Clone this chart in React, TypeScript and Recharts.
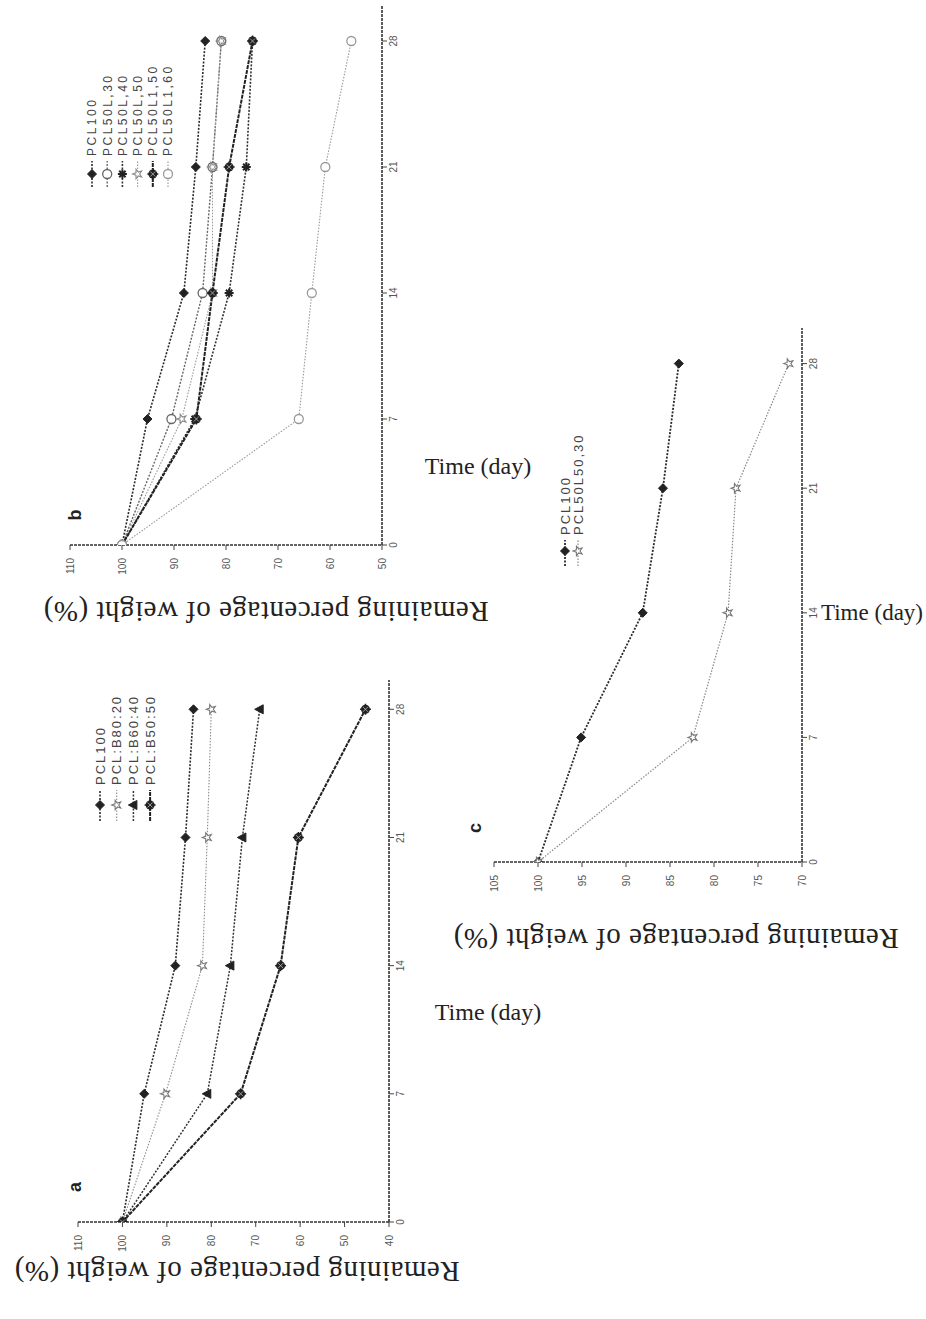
import React from 'react';
import { LineChart, Line, XAxis, YAxis } from 'recharts';

// ---------- data ----------
const days = [0, 7, 14, 21, 28];
const dayTicks = [0, 7, 14, 21, 28];

// panel a
const aLabels = ['PCL100', 'PCL:B80:20', 'PCL:B60:40', 'PCL:B50:50'];
const aPCL100 = [100, 95.1, 88.1, 85.8, 84.0];
const aBlend1 = [100, 90.3, 82.0, 80.9, 80.0];
const aBlend2 = [100, 80.9, 75.7, 73.0, 69.1];
const aBlend3 = [100, 73.4, 64.4, 60.4, 45.3];
const aTicks = [40, 50, 60, 70, 80, 90, 100, 110];

// panel b
const bLabels = ['PCL100', 'PCL50L,30', 'PCL50L,40', 'PCL50L,50', 'PCL50L1,50', 'PCL50L1,60'];
const bPCL100 = [100, 95.1, 88.1, 85.8, 84.0];
const bBlend1 = [100, 90.5, 84.5, 82.6, 80.9];
const bBlend2 = [100, 86.0, 79.4, 76.1, 74.9];
const bBlend3 = [100, 88.5, 82.6, 82.6, 80.9];
const bBlend4 = [100, 85.7, 82.6, 79.4, 74.9];
const bBlend5 = [100, 66.0, 63.5, 60.9, 55.9];
const bTicks = [50, 60, 70, 80, 90, 100, 110];

// panel c
const cLabels = ['PCL100', 'PCL50L50,30'];
const cPCL100 = [100, 95.1, 88.1, 85.8, 84.0];
const cBlend1 = [100, 82.4, 78.4, 77.5, 71.5];
const cTicks = [70, 75, 80, 85, 90, 95, 100, 105];

const xTitle = 'Time (day)';
const yTitle = 'Remaining percentage of weight (%)';

// ---------- styles (kept apart from data) ----------
type Style = { stroke: string; width: number; dash: string; kind: string; mark: string };
const darkDot: Style = { stroke: '#2b2b2b', width: 1.6, dash: '2 1.5', kind: 'diamond', mark: '#222' };
const aStyles: Style[] = [
  darkDot,
  { stroke: '#8c8c8c', width: 1.1, dash: '1.5 1.5', kind: 'starOpen', mark: '#777' },
  { stroke: '#333', width: 1.5, dash: '2 1.5', kind: 'triangle', mark: '#222' },
  { stroke: '#222', width: 2, dash: '4 1', kind: 'burst', mark: '#222' },
];
const bStyles: Style[] = [
  darkDot,
  { stroke: '#666', width: 1.4, dash: '2 1.5', kind: 'circleOpen', mark: '#666' },
  { stroke: '#333', width: 1.6, dash: '2 1.5', kind: 'asterisk', mark: '#222' },
  { stroke: '#999', width: 1.1, dash: '1.5 1.5', kind: 'starOpen', mark: '#888' },
  { stroke: '#222', width: 2, dash: '4 1', kind: 'burst', mark: '#222' },
  { stroke: '#999', width: 1.1, dash: '1.5 1.5', kind: 'circleOpen', mark: '#999' },
];
const cStyles: Style[] = [
  { ...darkDot, width: 1.8 },
  { stroke: '#888', width: 1.2, dash: '1.5 1.5', kind: 'starOpen', mark: '#777' },
];

function Marker({ cx, cy, kind, color }: { cx: number; cy: number; kind: string; color: string }) {
  const r = 4.5;
  if (kind === 'diamond') {
    return <polygon points={`${cx},${cy - r} ${cx + r},${cy} ${cx},${cy + r} ${cx - r},${cy}`} fill={color} stroke={color} strokeWidth={1} />;
  }
  if (kind === 'circleOpen') {
    return <circle cx={cx} cy={cy} r={r} fill="#fff" stroke={color} strokeWidth={1.3} />;
  }
  if (kind === 'triangle') {
    return <polygon points={`${cx},${cy - r - 0.5} ${cx + r},${cy + r - 1} ${cx - r},${cy + r - 1}`} fill={color} stroke={color} strokeWidth={1} />;
  }
  if (kind === 'starOpen') {
    const pts: string[] = [];
    for (let i = 0; i < 10; i++) {
      const a = -Math.PI / 2 + (i * Math.PI) / 5;
      const rr = i % 2 === 0 ? r + 0.5 : r * 0.45;
      pts.push(`${cx + rr * Math.cos(a)},${cy + rr * Math.sin(a)}`);
    }
    return <polygon points={pts.join(' ')} fill="#fff" stroke={color} strokeWidth={1.1} />;
  }
  if (kind === 'asterisk') {
    const lines = [0, 45, 90, 135].map((deg) => {
      const a = (deg * Math.PI) / 180;
      return (
        <line key={deg} x1={cx - r * Math.cos(a)} y1={cy - r * Math.sin(a)} x2={cx + r * Math.cos(a)} y2={cy + r * Math.sin(a)} stroke={color} strokeWidth={2} />
      );
    });
    return <g>{lines}</g>;
  }
  // burst: dark circle with spokes
  return (
    <g>
      <circle cx={cx} cy={cy} r={r} fill={color} />
      <line x1={cx - r - 1} y1={cy} x2={cx + r + 1} y2={cy} stroke={color} strokeWidth={1.5} />
      <line x1={cx} y1={cy - r - 1} x2={cx} y2={cy + r + 1} stroke={color} strokeWidth={1.5} />
      <line x1={cx - 2.5} y1={cy - 2.5} x2={cx + 2.5} y2={cy + 2.5} stroke="#bbb" strokeWidth={0.8} />
      <line x1={cx - 2.5} y1={cy + 2.5} x2={cx + 2.5} y2={cy - 2.5} stroke="#bbb" strokeWidth={0.8} />
    </g>
  );
}

const makeDot = (kind: string, color: string, key: string) => (props: any) => {
  const { cx, cy, index } = props;
  if (cx == null || cy == null) return <g key={`${key}-e-${index}`} />;
  return (
    <g key={`${key}-${index}`}>
      <Marker cx={cx} cy={cy} kind={kind} color={color} />
    </g>
  );
};

function buildRows(series: number[][]) {
  return days.map((d, i) => {
    const row: Record<string, number> = { day: d };
    series.forEach((s, k) => {
      row[`s${k}`] = s[i];
    });
    return row;
  });
}

type PanelProps = {
  left: number;
  top: number;
  W: number;
  H: number;
  margin: { top: number; right: number; bottom: number; left: number };
  series: number[][];
  labels: string[];
  styles: Style[];
  yTicks: number[];
  yDomain: [number, number];
  xMax: number;
  legend: { u0: number; v0: number; dv: number; font: number; ls: number; lineLen: number; markAt: number };
};

function Panel(p: PanelProps) {
  const rows = buildRows(p.series);
  const axisStyle = { stroke: '#333', strokeWidth: 1.6, strokeDasharray: '3 1' };
  return (
    <div style={{ position: 'absolute', left: p.left, top: p.top, width: p.H, height: p.W }}>
      <div
        style={{
          position: 'absolute',
          left: 0,
          top: 0,
          width: p.W,
          height: p.H,
          transformOrigin: '0 0',
          transform: `translate(0px, ${p.W}px) rotate(-90deg)`,
        }}
      >
        <LineChart width={p.W} height={p.H} data={rows} margin={p.margin}>
          <XAxis
            dataKey="day"
            type="number"
            domain={[0, p.xMax]}
            ticks={dayTicks}
            interval={0}
            allowDataOverflow
            height={30}
            tickSize={5}
            tickMargin={3}
            axisLine={axisStyle}
            tickLine={{ stroke: '#444' }}
            tick={{ fontSize: 10, fill: '#555', fontFamily: 'Liberation Sans, Arial' }}
          />
          <YAxis
            type="number"
            domain={p.yDomain}
            ticks={p.yTicks}
            interval={0}
            allowDataOverflow
            width={45}
            tickSize={5}
            tickMargin={8}
            axisLine={axisStyle}
            tickLine={{ stroke: '#444' }}
            tick={{ fontSize: 10, fill: '#555', fontFamily: 'Liberation Sans, Arial' }}
          />
          {p.series.map((_, k) => {
            const st = p.styles[k];
            return (
              <Line
                key={`s${k}`}
                dataKey={`s${k}`}
                type="linear"
                stroke={st.stroke}
                strokeWidth={st.width}
                strokeDasharray={st.dash}
                dot={makeDot(st.kind, st.mark, `s${k}`)}
                activeDot={false}
                isAnimationActive={false}
              />
            );
          })}
        </LineChart>
        <svg
          width={p.W}
          height={p.H}
          style={{ position: 'absolute', left: 0, top: 0, pointerEvents: 'none' }}
        >
          {p.labels.map((lab, k) => {
            const st = p.styles[k];
            const v = p.legend.v0 + k * p.legend.dv;
            const u = p.legend.u0;
            return (
              <g key={lab + k}>
                <line x1={u} y1={v} x2={u + p.legend.lineLen} y2={v} stroke={st.stroke} strokeWidth={st.width} strokeDasharray={st.dash} />
                <Marker cx={u + p.legend.markAt} cy={v} kind={st.kind} color={st.mark} />
                <text
                  x={u + p.legend.lineLen + 5}
                  y={v + p.legend.font * 0.36}
                  fontSize={p.legend.font}
                  fill="#444"
                  letterSpacing={p.legend.ls}
                  fontFamily="Liberation Sans, Arial"
                >
                  {lab}
                </text>
              </g>
            );
          })}
        </svg>
      </div>
    </div>
  );
}

function Txt({ x, y, text, size, rot, weight, family, ls }: { x: number; y: number; text: string; size: number; rot: number; weight?: string; family?: string; ls?: number }) {
  return (
    <div
      style={{
        position: 'absolute',
        left: x,
        top: y,
        transform: `translate(-50%, -50%) rotate(${rot}deg)`,
        whiteSpace: 'nowrap',
        fontSize: size,
        fontWeight: weight || 'normal',
        fontFamily: family || 'Liberation Serif, Times New Roman, serif',
        letterSpacing: ls || 0,
        color: '#222',
        lineHeight: 1,
      }}
    >
      {text}
    </div>
  );
}

export default function App() {
  return (
    <div style={{ position: 'absolute', left: 0, top: 0, width: 926, height: 1319, background: '#fff', overflow: 'hidden' }}>
      <Panel
        left={60}
        top={662}
        W={610}
        H={360}
        margin={{ top: 18, right: 18, bottom: 1, left: 5 }}
        series={[aPCL100, aBlend1, aBlend2, aBlend3]}
        labels={aLabels}
        styles={aStyles}
        yTicks={aTicks}
        yDomain={[40, 110]}
        xMax={29.6}
        legend={{ u0: 451, v0: 40, dv: 16.7, font: 13, ls: 2, lineLen: 31, markAt: 16 }}
      />
      <Panel
        left={52}
        top={0}
        W={595}
        H={360}
        margin={{ top: 18, right: 5, bottom: 0, left: 5 }}
        series={[bPCL100, bBlend1, bBlend2, bBlend3, bBlend4, bBlend5]}
        labels={bLabels}
        styles={bStyles}
        yTicks={bTicks}
        yDomain={[50, 110]}
        xMax={30}
        legend={{ u0: 408, v0: 40, dv: 15.2, font: 12, ls: 2.5, lineLen: 26, markAt: 13 }}
      />
      <Panel
        left={476}
        top={323}
        W={589}
        H={360}
        margin={{ top: 18, right: 5, bottom: 4, left: 5 }}
        series={[cPCL100, cBlend1]}
        labels={cLabels}
        styles={cStyles}
        yTicks={cTicks}
        yDomain={[70, 105]}
        xMax={30}
        legend={{ u0: 346, v0: 89, dv: 13, font: 13, ls: 2, lineLen: 26, markAt: 15 }}
      />

      <Txt x={75} y={1187} text="a" size={18} rot={-90} weight="bold" family="Liberation Sans, Arial" />
      <Txt x={75} y={515} text="b" size={18} rot={-90} weight="bold" family="Liberation Sans, Arial" />
      <Txt x={475} y={828} text="c" size={18} rot={-90} weight="bold" family="Liberation Sans, Arial" />

      <Txt x={488} y={1012} text={xTitle} size={24} rot={0} />
      <Txt x={478} y={466} text={xTitle} size={24} rot={0} />
      <Txt x={872} y={612} text={xTitle} size={23} rot={0} />

      <Txt x={237} y={1271} text={yTitle} size={29} rot={180} ls={0.5} />
      <Txt x={266} y={611} text={yTitle} size={29} rot={180} ls={0.5} />
      <Txt x={676} y={938} text={yTitle} size={29} rot={180} ls={0.5} />
    </div>
  );
}
